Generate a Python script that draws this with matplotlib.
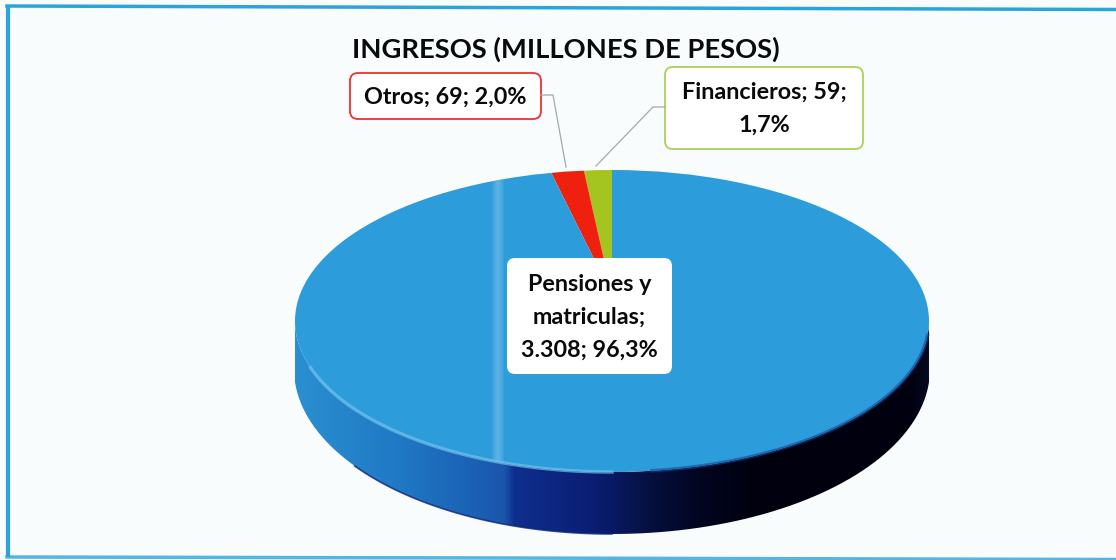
import numpy as np
import matplotlib
matplotlib.use("Agg")
import matplotlib.pyplot as plt
from matplotlib.colors import LinearSegmentedColormap
from matplotlib.patches import Ellipse, FancyBboxPatch, PathPatch
from matplotlib.path import Path

plt.rcParams['font.family'] = ['Lato', 'DejaVu Sans']

# order follows the pie, counter-clockwise from 12 o'clock
categories = ['Financieros', 'Otros', 'Pensiones y\nmatriculas']
values = [59, 69, 3308]
pct_labels = ['1,7%', '2,0%', '96,3%']
value_labels = ['59', '69', '3.308']
colors = ['#a4c520', '#f0200f', '#2d9cdb']
title = 'INGRESOS (MILLONES DE PESOS)'

W, H = 1116, 560
fig = plt.figure(figsize=(W / 100, H / 100), dpi=100, facecolor='#f8fcfd')

# pixel coordinates axes for the frame and the side of the "3D" disc
bg = fig.add_axes([0, 0, 1, 1], zorder=0)
bg.set_xlim(0, W)
bg.set_ylim(H, 0)
bg.axis('off')
# scanned frame: slightly skewed, no line on the right
bg.plot([8, 8], [6, 557], color='#2ba3dc', lw=3, solid_capstyle='butt')
bg.plot([7, W], [6, 9.5], color='#2ba3dc', lw=2.5)
bg.plot([7, 500, W], [557, 558, 559.5], color='#2ba3dc', lw=2.5, alpha=0.8)

cx, cy, rx, ry = 612, 321, 317, 151
bot_cy, bot_rx, bot_ry = 369, 318, 165

# side of the disc, gradient clipped to the outline below the face
t = np.linspace(0, np.pi, 200)
side_x = np.r_[cx + bot_rx * np.cos(t), cx + rx * np.cos(t[::-1])]
side_y = np.r_[bot_cy + bot_ry * np.sin(t), cy + ry * np.sin(t[::-1])]
side = PathPatch(Path(np.c_[side_x, side_y]), fc='none', ec='none')
bg.add_patch(side)
stops = [(0.0, '#2a8fd0'), (0.166, '#1f78c4'), (0.29, '#1b5fb4'), (0.33, '#1a55ac'), (0.345, '#0f2f8f'),
         (0.48, '#0a1c70'), (0.56, '#05103f'), (0.64, '#020520'), (0.73, '#00000e'), (0.97, '#00000e'),
         (1.0, '#05081f')]
cmap = LinearSegmentedColormap.from_list('side', stops)
img = bg.imshow(np.linspace(0, 1, 256)[None, :], cmap=cmap, aspect='auto',
                extent=(cx - rx, cx + rx, 540, 300))
img.set_clip_path(side)
bg.set_xlim(0, W)
bg.set_ylim(H, 0)

# pie in its own squashed axes, the slices meet above the middle of the face
apex_y = 295
sx, sy = 317, 152
ax = fig.add_axes([0, 0, 1, 1], zorder=1)
wedges, _ = ax.pie(values, colors=colors, startangle=90, counterclock=True, radius=1.6,
                   wedgeprops={'linewidth': 0})
ax.set_aspect('auto')
ax.set_xlim(-cx / sx, (W - cx) / sx)
ax.set_ylim(-(H - apex_y) / sy, apex_y / sy)
face = Ellipse((0, (apex_y - cy) / sy), 2 * rx / sx, 2 * ry / sy, transform=ax.transData)
for w in wedges:
    w.set_clip_on(True)
    w.set_clip_path(face)

# overlay in pixels for band, title and labels
ov = fig.add_axes([0, 0, 1, 1], zorder=2)
ov.set_xlim(0, W)
ov.set_ylim(H, 0)
ov.axis('off')
ov.patch.set_alpha(0)

# pale vertical streak of the scan
band = ov.imshow(np.array([[0, 1, 0]]), cmap=LinearSegmentedColormap.from_list(
    'band', [(1, 1, 1, 0), (0.75, 0.88, 0.96, 0.33)]), aspect='auto', extent=(488, 508, 500, 170),
    interpolation='bilinear')
band.set_clip_path(Ellipse((cx, cy), 2 * rx, 2 * ry, transform=ov.transData))
ov.set_xlim(0, W)
ov.set_ylim(H, 0)

# light rim on the front left, dark rim on the right, dark line under the disc
a = np.linspace(np.pi * 0.5, np.pi * 0.9, 80)
ov.plot(cx + rx * np.cos(a), cy + ry * np.sin(a), color='#6cc0ec', lw=2.5, alpha=0.7)
a = np.linspace(np.pi * 0.03, np.pi * 0.46, 80)
ov.plot(cx + rx * np.cos(a), cy + ry * np.sin(a), color='#12458f', lw=2.5, alpha=0.6)
a = np.linspace(np.pi * 0.5, np.pi * 0.8, 60)
ov.plot(cx + bot_rx * np.cos(a), bot_cy + bot_ry * np.sin(a), color='#0c2478', lw=1.2, alpha=0.8)

ov.text(566, 49, title, ha='center', va='center', fontsize=19.7, fontweight='bold', color='#0a0a0a')


def label_text(i):
    return f'{categories[i]}; {value_labels[i]}; {pct_labels[i]}'


def label_box(x0, y0, x1, y1, ec, text, lw=1.3):
    ov.add_patch(FancyBboxPatch((x0 + 8, y0 + 8), x1 - x0 - 16, y1 - y0 - 16,
                                boxstyle='round,pad=8,rounding_size=8', fc='white', ec=ec, lw=lw))
    ov.text((x0 + x1) / 2, (y0 + y1) / 2 + 1, text, ha='center', va='center', fontsize=16.8,
            fontweight='bold', color='#0a0a0a', linespacing=1.7)


ov.plot([541, 553, 566], [95, 95, 167], color='#a8a8a8', lw=0.9)
ov.plot([665, 653, 596], [107, 107, 166], color='#a8a8a8', lw=0.9)

label_box(350, 73, 541, 119, '#ee3030', label_text(1))
label_box(665, 67, 863, 149, '#a9d05a', 'Financieros; 59;\n1,7%')
label_box(507, 258, 672, 374, 'none', 'Pensiones y\nmatriculas;\n3.308; 96,3%')

fig.savefig('out.png', dpi=100, facecolor=fig.get_facecolor())
